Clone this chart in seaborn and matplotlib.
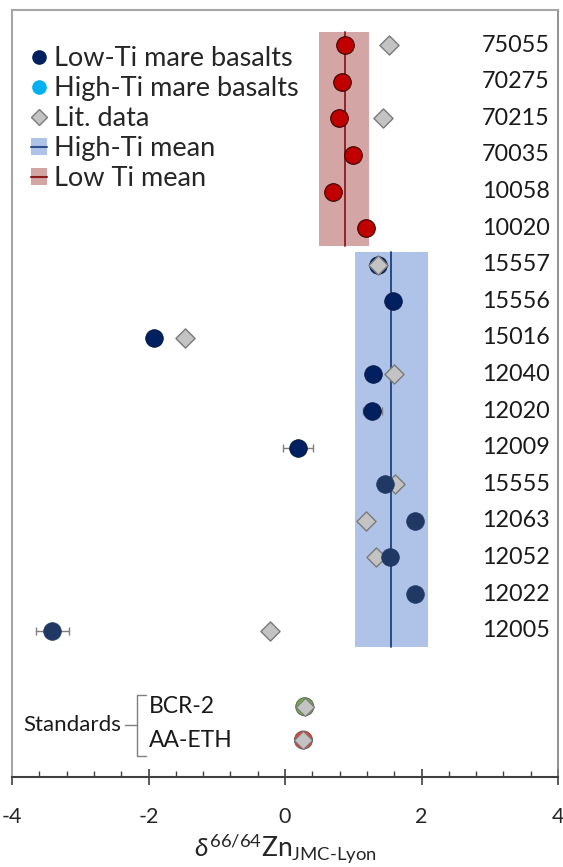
import numpy as np
import pandas as pd
import matplotlib.pyplot as plt
import seaborn as sns
from matplotlib.patches import Patch
from matplotlib.lines import Line2D
from matplotlib.ticker import MultipleLocator

sns.set_style("white")
plt.rcParams['font.family'] = ['Lato', 'DejaVu Sans']
plt.rcParams['mathtext.fontset'] = 'custom'
plt.rcParams['mathtext.rm'] = 'Lato'
plt.rcParams['mathtext.it'] = 'Lato:italic'

# samples, top to bottom
samples = ["75055", "70275", "70215", "70035", "10058", "10020",
           "15557", "15556", "15016", "12040", "12020", "12009",
           "15555", "12063", "12052", "12022", "12005"]

# red points (upper group)
red_samples = ["75055", "70275", "70215", "70035", "10058", "10020"]
red_vals = [0.88, 0.83, 0.79, 0.99, 0.70, 1.19]

# navy points
navy_samples_a = ["15557", "15556", "15016", "12040", "12020", "12009"]
navy_vals_a = [1.36, 1.58, -1.92, 1.29, 1.28, 0.19]
navy_samples_b = ["15555", "12063", "12052", "12022", "12005"]
navy_vals_b = [1.46, 1.91, 1.54, 1.90, -3.41]

err_samples = ["12020", "12009", "12005"]
err_x = [1.28, 0.19, -3.41]
err_vals = [0.14, 0.22, 0.24]

# literature data
lit_samples = ["75055", "70215", "15557", "15016", "12040", "15555", "12063", "12052", "12005"]
lit_vals = [1.53, 1.44, 1.36, -1.47, 1.59, 1.61, 1.18, 1.33, -0.22]

# standards
std_names = ["BCR-2", "AA-ETH"]
std_vals = [0.29, 0.27]
std_colors = ["#70AD47", "#E8413A"]

# means and ranges
red_mean, red_min, red_max = 0.88, 0.50, 1.23
blue_mean, blue_min, blue_max = 1.55, 1.02, 2.09

row = {s: i for i, s in enumerate(samples)}
std_rows = [18.08, 18.99]

fig = plt.figure(figsize=(5.63, 8.67), dpi=100)
ax = fig.add_axes([12 / 563, 1 - 777 / 867, 546 / 563, 767 / 867])

# mean bands
ax.fill_betweenx([-0.36, 5.49], red_min, red_max, color="#D4A5A5", lw=0, zorder=1)
ax.plot([red_mean, red_mean], [-0.36, 5.49], color="#8B1A1A", lw=1.3, zorder=2)
ax.fill_betweenx([5.66, 16.44], blue_min, blue_max, color="#AFC3E8", lw=0, zorder=1)
ax.plot([blue_mean, blue_mean], [5.66, 16.44], color="#1F3F7A", lw=1.3, zorder=2)

# error bars
ax.errorbar(err_x, [row[s] for s in err_samples], xerr=err_vals, fmt="none",
            ecolor="#7F7F7F", elinewidth=1, capsize=3, zorder=3)

df_red = pd.DataFrame({"x": red_vals, "y": [row[s] for s in red_samples]})
df_a = pd.DataFrame({"x": navy_vals_a, "y": [row[s] for s in navy_samples_a]})
df_b = pd.DataFrame({"x": navy_vals_b, "y": [row[s] for s in navy_samples_b]})
df_lit = pd.DataFrame({"x": lit_vals, "y": [row[s] for s in lit_samples]})

sns.scatterplot(data=df_red, x="x", y="y", ax=ax, s=160, color="#C00000",
                edgecolor="#3A0000", linewidth=0.8, zorder=4)
sns.scatterplot(data=df_a, x="x", y="y", ax=ax, s=160, color="#002060",
                edgecolor="#001540", linewidth=0.6, zorder=4)
sns.scatterplot(data=df_lit, x="x", y="y", ax=ax, s=95, marker="D", color="#C3C3C3",
                edgecolor="#7A7A7A", linewidth=1.0, zorder=5)
sns.scatterplot(data=df_b, x="x", y="y", ax=ax, s=160, color="#1F3864",
                edgecolor="#1F3864", linewidth=0.6, zorder=6)

# standards
sns.scatterplot(x=std_vals, y=std_rows, ax=ax, s=170, hue=std_names,
                palette=std_colors, edgecolor="#555555", linewidth=0.6, zorder=4, legend=False)
sns.scatterplot(x=std_vals, y=std_rows, ax=ax, s=85, marker="D", color="#C3C3C3",
                edgecolor="#7A7A7A", linewidth=0.8, zorder=5)

# sample labels
ytr = ax.get_yaxis_transform()
for s in samples:
    ax.text(0.985, row[s], s, transform=ytr, ha="right", va="center",
            fontsize=16.8, color="#1A1A1A")

# standards labels and bracket
for name, r in zip(std_names, std_rows):
    ax.text(-2.0, r, name, ha="left", va="center", fontsize=16.5, color="#1A1A1A")
ax.text(-2.40, 18.58, "Standards", ha="right", va="center", fontsize=16, color="#1A1A1A")
ax.plot([-2.35, -2.17], [18.58, 18.58], color="#7F7F7F", lw=1)
ax.plot([-2.03, -2.17, -2.17, -2.03], [17.76, 17.76, 19.43, 19.43], color="#7F7F7F", lw=1)

ax.set_xlim(-4, 4)
ax.set_ylim(20.0, -0.96)
ax.set_yticks([])
ax.set_ylabel("")
ax.set_xticks([-4, -2, 0, 2, 4])
ax.set_xticklabels(["-4", "-2", "0", "2", "4"])
ax.xaxis.set_minor_locator(MultipleLocator(0.4))
ax.tick_params(axis="x", which="major", direction="inout", length=11, width=1.2,
               color="#404040", labelsize=15.5, pad=16, bottom=True)
ax.tick_params(axis="x", which="minor", direction="in", length=4, width=1,
               color="#404040", bottom=True)
ax.set_xlabel(r"$\delta^{66/64}$Zn$_{\mathregular{JMC\text{-}Lyon}}$", fontsize=19, labelpad=3)

for side in ["left", "top"]:
    ax.spines[side].set_color("#A6A6A6")
    ax.spines[side].set_linewidth(1.5)
ax.spines["right"].set_color("#808080")
ax.spines["right"].set_linewidth(1.2)
ax.spines["bottom"].set_color("#404040")
ax.spines["bottom"].set_linewidth(1.5)

handles = [
    Line2D([], [], marker="o", ls="", color="#002060", markersize=9.5),
    Line2D([], [], marker="o", ls="", color="#00B0F0", markersize=9.5),
    Line2D([], [], marker="D", ls="", markerfacecolor="#C3C3C3", markeredgecolor="#7A7A7A", markersize=8),
    (Patch(facecolor="#AFC3E8", edgecolor="none"), Line2D([], [], color="#2F4F8F", lw=1.5)),
    (Patch(facecolor="#D4A5A5", edgecolor="none"), Line2D([], [], color="#8B1A1A", lw=1.5)),
]
labels = ["Low-Ti mare basalts", "High-Ti mare basalts", "Lit. data", "High-Ti mean", "Low Ti mean"]
ax.legend(handles, labels, loc="upper left", bbox_to_anchor=(0.0, 0.978), frameon=False,
          fontsize=19.5, handlelength=0.6, handleheight=0.6, handletextpad=0.25,
          labelspacing=0.19, borderaxespad=0.3)

fig.savefig("out.png", dpi=100)
